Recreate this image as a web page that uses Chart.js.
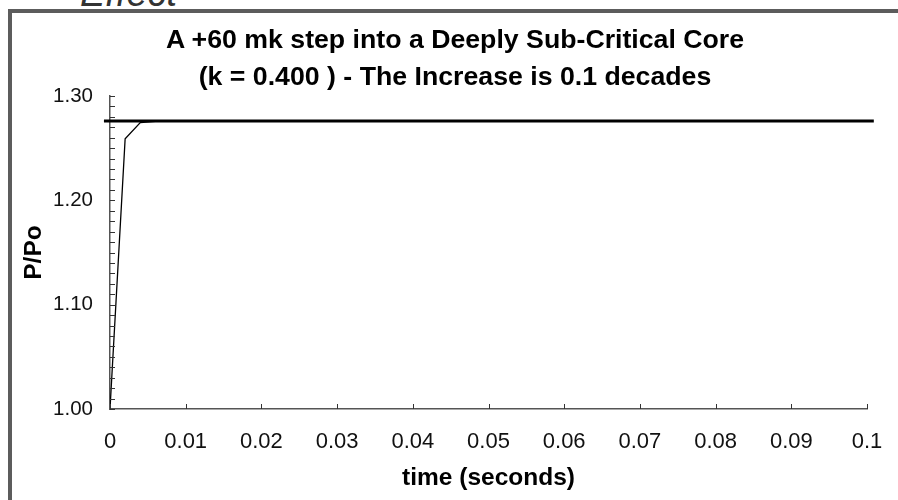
<!DOCTYPE html>
<html>
<head>
<meta charset="utf-8">
<script src="https://cdn.jsdelivr.net/npm/chart.js@4.4.0/dist/chart.umd.min.js"></script>
<style>
  html, body { margin: 0; padding: 0; background: #fff; overflow: hidden; }
  #wrap { position: relative; width: 898px; height: 500px; overflow: hidden; }
  #frame {
    position: absolute; left: 8px; top: 9px; width: 920px; height: 520px;
    border: 4px solid #5c5c5c; box-sizing: border-box;
  }
  #effect {
    position: absolute; left: 80px; top: -26px; font: italic 38px "Liberation Sans", Arial, sans-serif;
    line-height: 38px; color: #333; white-space: nowrap;
  }
  #title {
    position: absolute; left: 55px; width: 800px; top: 21px; text-align: center;
    font: bold 26.7px "Liberation Sans", Arial, sans-serif; line-height: 36.7px; color: #000;
  }
  #tokenChart { position: absolute; left: 0; top: 0; }
</style>
</head>
<body>
<div id="wrap">
  <div id="effect">Effect</div>
  <div id="frame"></div>
  <canvas id="tokenChart" width="898" height="500"></canvas>
  <div id="title"></div>
</div>
<script>
// Data
const timeValues = [0, 0.002, 0.004, 0.006, 0.008, 0.01, 0.02, 0.03, 0.04, 0.05, 0.06, 0.07, 0.08, 0.09, 0.1];
const powerValues = [1.0, 1.259, 1.2745, 1.2757, 1.276, 1.276, 1.276, 1.276, 1.276, 1.276, 1.276, 1.276, 1.276, 1.276, 1.276];
const asymptoteTime = [-0.0008, 0.1009];
const asymptoteValue = [1.276, 1.276];
const xTickLabels = ["0", "0.01", "0.02", "0.03", "0.04", "0.05", "0.06", "0.07", "0.08", "0.09", "0.1"];
const yTickLabels = ["1.00", "1.10", "1.20", "1.30"];
const titleLines = ["A +60 mk step into a Deeply Sub-Critical Core", "(k = 0.400 ) - The Increase is 0.1 decades"];

(function () {
  const FONT = "'Liberation Sans', Arial, sans-serif";

  const titleBox = document.getElementById("title");
  titleLines.forEach((line) => {
    const d = document.createElement("div");
    d.textContent = line;
    titleBox.appendChild(d);
  });

  // draws the small tick marks pointing into the plot
  const innerTicks = {
    id: "innerTicks",
    afterDraw(chart) {
      const c = chart.ctx;
      const area = chart.chartArea;
      const xs = chart.scales.x;
      const ys = chart.scales.y;
      c.save();
      c.strokeStyle = "#333";
      c.lineWidth = 1;
      c.beginPath();
      ys.ticks.forEach((t) => {
        const y = Math.round(ys.getPixelForValue(t.value)) + 0.5;
        c.moveTo(area.left, y);
        c.lineTo(area.left + 5, y);
      });
      xs.ticks.forEach((t) => {
        const x = Math.round(xs.getPixelForValue(t.value)) + 0.5;
        c.moveTo(x, area.bottom);
        c.lineTo(x, area.bottom - 5);
      });
      c.stroke();
      c.restore();
    },
  };

  const ctx = document.getElementById("tokenChart").getContext("2d");
  new Chart(ctx, {
    type: "line",
    data: {
      datasets: [
        {
          label: "P/Po",
          data: timeValues.map((t, i) => ({ x: t, y: powerValues[i] })),
          borderColor: "#000",
          borderWidth: 1.3,
          pointRadius: 0,
          tension: 0,
          fill: false,
        },
        {
          label: "final",
          data: asymptoteTime.map((t, i) => ({ x: t, y: asymptoteValue[i] })),
          borderColor: "#000",
          borderWidth: 3,
          pointRadius: 0,
          tension: 0,
          fill: false,
          clip: false,
        },
      ],
    },
    options: {
      responsive: false,
      animation: false,
      layout: { padding: { left: 19.5, right: 31, top: 96, bottom: 7 } },
      plugins: {
        legend: { display: false },
        tooltip: { enabled: false },
        title: { display: false },
      },
      scales: {
        x: {
          type: "linear",
          min: 0,
          max: 0.1,
          border: { display: true, color: "#555", width: 1.5 },
          grid: { display: false, drawTicks: false },
          ticks: {
            stepSize: 0.01,
            autoSkip: false,
            maxRotation: 0,
            padding: 20,
            color: "#111",
            font: { family: FONT, size: 22 },
            callback: (v, i) => xTickLabels[i],
          },
          title: {
            display: true,
            text: "time (seconds)",
            color: "#000",
            font: { family: FONT, size: 24.5, weight: "bold" },
            padding: 0,
          },
          afterFit: (scale) => {
            scale.height = 84;
            scale.paddingLeft = 0;
            scale.paddingRight = 0;
          },
        },
        y: {
          min: 1.0,
          max: 1.3,
          border: { display: true, color: "#555", width: 1.5 },
          grid: { display: false, drawTicks: false },
          ticks: {
            stepSize: 0.01,
            autoSkip: false,
            padding: 17,
            color: "#111",
            font: { family: FONT, size: 20.5 },
            callback: (v, i) => (i % 10 === 0 ? yTickLabels[i / 10] : ""),
          },
          title: {
            display: true,
            text: "P/Po",
            color: "#000",
            font: { family: FONT, size: 24.5, weight: "bold" },
            padding: 0,
          },
          afterFit: (scale) => { scale.width = 90.5; },
        },
      },
    },
    plugins: [innerTicks],
  });
})();
</script>
</body>
</html>
